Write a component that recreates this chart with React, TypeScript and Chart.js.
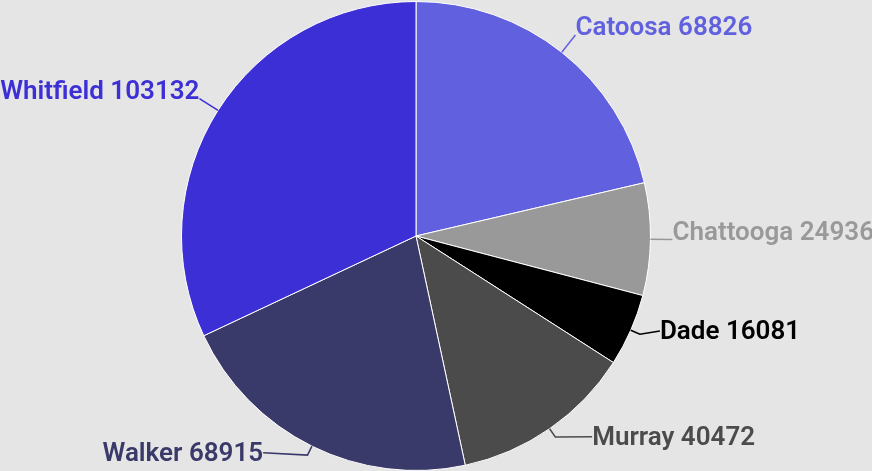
import React, { useEffect, useRef } from "react";
import { Chart, registerables } from "chart.js";

Chart.register(...registerables);

const counties = ["Catoosa", "Chattooga", "Dade", "Murray", "Walker", "Whitfield"];
const populations = [68826, 24936, 16081, 40472, 68915, 103132];
const sliceColors = ["#6161e0", "#999999", "#000000", "#4b4b4b", "#3a3a6a", "#3d2fd6"];
// label layout nudges (px) applied after the radial placement
const labelNudges = [
  [0, 0],
  [0, 0],
  [9, 0],
  [30, -2],
  [-39, -5],
  [0, 0],
];

const FONT = '600 26px Roboto, "Noto Sans", sans-serif';

const outsideLabels = {
  id: "outsideLabels",
  afterDatasetsDraw(chart: any) {
    const ctx = chart.ctx;
    const meta = chart.getDatasetMeta(0);
    ctx.save();
    ctx.font = FONT;
    ctx.textBaseline = "alphabetic";
    meta.data.forEach((arc: any, i: number) => {
      const p = arc.getProps(["x", "y", "startAngle", "endAngle", "outerRadius"], true);
      const mid = (p.startAngle + p.endAngle) / 2;
      const R = p.outerRadius;
      const cx = Math.cos(mid);
      const cy = Math.sin(mid);
      const ex = p.x + cx * R;
      const ey = p.y + cy * R;
      const ax0 = p.x + cx * (R + 22);
      const ay0 = p.y + cy * (R + 22);
      const [nx, ny] = labelNudges[i];
      const ax = ax0 + nx;
      const ay = ay0 + ny;
      const color = sliceColors[i];
      ctx.strokeStyle = color;
      ctx.lineWidth = 1.5;
      ctx.beginPath();
      ctx.moveTo(ex, ey);
      if (nx !== 0) {
        const kx = p.x + cx * (R + 10);
        const ky = p.y + cy * (R + 10);
        ctx.lineTo(kx, ky);
        ctx.lineTo(ax, ay - 8);
      } else {
        ctx.lineTo(ax, ay);
      }
      ctx.stroke();
      ctx.fillStyle = color;
      ctx.textAlign = cx >= 0 ? "left" : "right";
      ctx.fillText(`${counties[i]} ${populations[i]}`, ax, ay);
    });
    ctx.restore();
  },
};

export default function App() {
  const ref = useRef<HTMLCanvasElement | null>(null);
  useEffect(() => {
    document.body.style.margin = "0";
    const canvas = ref.current;
    if (!canvas) return;
    const chart = new Chart(canvas, {
      type: "pie",
      data: {
        labels: counties,
        datasets: [
          {
            data: populations,
            backgroundColor: sliceColors,
            borderColor: "#ffffff",
            borderWidth: 1,
          },
        ],
      },
      options: {
        animation: false,
        responsive: false,
        maintainAspectRatio: false,
        layout: { padding: { top: 1, bottom: 0, left: 0, right: 40 } },
        plugins: {
          legend: { display: false },
          tooltip: { enabled: false },
        },
      },
      plugins: [outsideLabels],
    });
    return () => chart.destroy();
  }, []);
  return (
    <div style={{ position: "fixed", left: 0, top: 0, width: 872, height: 471, background: "#e5e5e5" }}>
      <canvas ref={ref} width={872} height={471} style={{ display: "block", width: 872, height: 471 }} />
    </div>
  );
}
